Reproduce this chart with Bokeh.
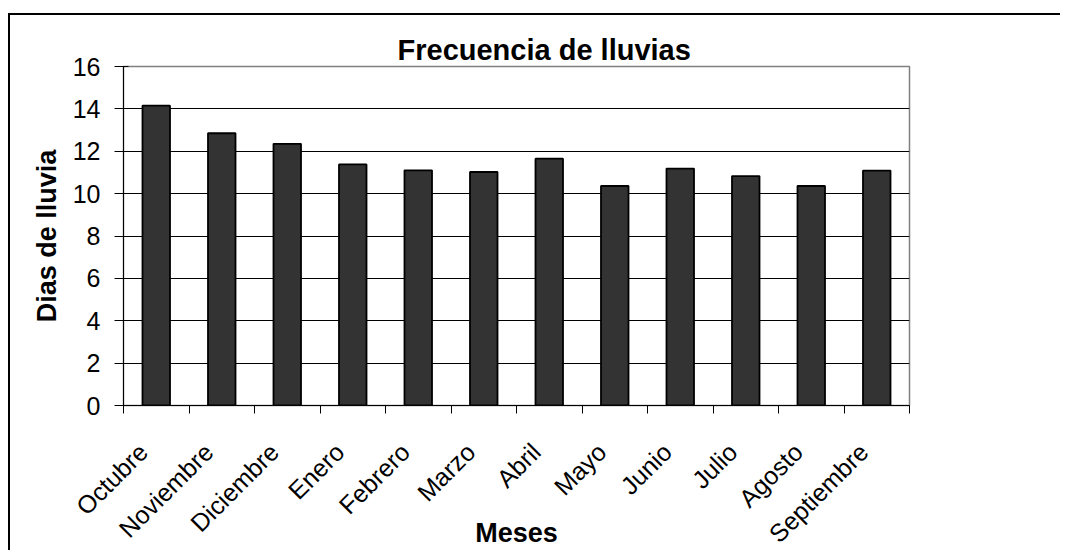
from bokeh.plotting import figure
from bokeh.models import Range1d, FixedTicker, ColumnDataSource
from bokeh.embed import file_html
from bokeh.resources import INLINE

meses = ["Octubre", "Noviembre", "Diciembre", "Enero", "Febrero", "Marzo",
         "Abril", "Mayo", "Junio", "Julio", "Agosto", "Septiembre"]
dias = [14.15, 12.85, 12.35, 11.38, 11.10, 11.02, 11.65, 10.36, 11.18, 10.83, 10.36, 11.09]
y_ticks = [0, 2, 4, 6, 8, 10, 12, 14, 16]

pos = [i + 0.5 for i in range(len(meses))]
label_pos = [i + 0.3 for i in range(len(meses))]
src = ColumnDataSource(dict(x=pos, dias=dias, mes=meses))

FONT = "Liberation Sans"

p = figure(width=1060, height=550, output_backend="svg", toolbar_location=None,
           x_range=Range1d(0, len(meses)), y_range=Range1d(0, 16),
           title="Frecuencia de lluvias",
           min_border_left=123, min_border_top=66, min_border_right=151,
           min_border_bottom=144)

p.border_fill_color = None
p.background_fill_color = "white"
p.styles = {
    "background": "linear-gradient(#000,#000) 8px 13px / 100% 2px no-repeat, "
                  "linear-gradient(#000,#000) 8px 13px / 2px 100% no-repeat"
}

p.vbar(x="x", top="dias", width=0.42, source=src,
       fill_color="#333333", line_color="#000000", line_width=1.8)

# title
p.title.text_font = FONT
p.title.text_font_size = "29px"
p.title.text_font_style = "bold"
p.title.align = "left"
p.title.offset = 274
p.title.standoff = 2
p.title.text_color = "#000000"

# outline
p.outline_line_color = "#808080"
p.outline_line_width = 1.5

# grid
p.xgrid.visible = False
p.ygrid.ticker = FixedTicker(ticks=[2, 4, 6, 8, 10, 12, 14])
p.ygrid.grid_line_color = "#000000"
p.ygrid.grid_line_width = 1

# y axis
p.yaxis.ticker = FixedTicker(ticks=y_ticks)
p.yaxis.axis_label = "Dias de lluvia"
p.yaxis.axis_label_text_font = FONT
p.yaxis.axis_label_text_font_size = "27px"
p.yaxis.axis_label_text_font_style = "bold"
p.yaxis.axis_label_text_color = "#000000"
p.yaxis.axis_label_standoff = 8
p.yaxis.major_label_text_font = FONT
p.yaxis.major_label_text_font_size = "25px"
p.yaxis.major_label_text_color = "#000000"
p.yaxis.major_label_standoff = 14
p.yaxis.major_tick_out = 9
p.yaxis.major_tick_in = 5
p.yaxis.minor_tick_line_color = None
p.yaxis.axis_line_color = "#000000"
p.yaxis.major_tick_line_color = "#000000"

# x axis
p.xaxis.ticker = FixedTicker(ticks=label_pos, minor_ticks=list(range(len(meses) + 1)))
p.xaxis.major_label_overrides = {x: m for x, m in zip(label_pos, meses)}
p.xaxis.major_label_orientation = 0.785398
p.xaxis.major_label_text_font = FONT
p.xaxis.major_label_text_font_size = "25px"
p.xaxis.major_label_text_color = "#000000"
p.xaxis.major_label_standoff = 34
p.xaxis.major_tick_out = 0
p.xaxis.major_tick_in = 0
p.xaxis.minor_tick_out = 8
p.xaxis.minor_tick_in = 0
p.xaxis.minor_tick_line_color = "#000000"
p.xaxis.axis_line_color = "#000000"
p.xaxis.axis_label = "Meses"
p.xaxis.axis_label_text_font = FONT
p.xaxis.axis_label_text_font_size = "27px"
p.xaxis.axis_label_text_font_style = "bold"
p.xaxis.axis_label_text_color = "#000000"
p.xaxis.axis_label_standoff = -43

open("out.html", "w").write(file_html(p, INLINE))
